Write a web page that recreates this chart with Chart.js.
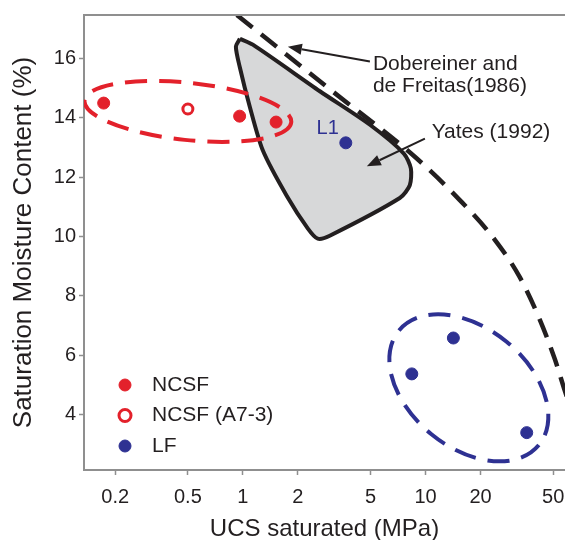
<!DOCTYPE html>
<html>
<head>
<meta charset="utf-8">
<script src="https://cdn.jsdelivr.net/npm/chart.js@4.4.1/dist/chart.umd.min.js"></script>
<style>
  html, body { margin: 0; padding: 0; background: #fff; overflow: hidden; }
  canvas { display: block; }
</style>
</head>
<body>
<canvas id="myChart" width="565" height="540"></canvas>
<script>
// valores (UCS em MPa, umidade em %)
const ncsfX = [0.173, 0.96, 1.52];
const ncsfY = [14.5, 14.06, 13.86];
const a73X = [0.5];
const a73Y = [14.3];
const lfX = [3.66, 8.41, 14.2, 35.8];
const lfY = [13.16, 5.37, 6.58, 3.39];

const xTicks = [0.2, 0.5, 1, 2, 5, 10, 20, 50];
const yTicks = [4, 6, 8, 10, 12, 14, 16];

// contorno Yates (1992)
const yatesX = [0.963, 1.134, 2.64, 4.96, 7.61, 8.31, 8.20, 7.23, 2.99, 2.57, 2.27, 1.74, 1.287, 1.092, 0.963, 0.916, 0.963];
const yatesY = [16.67, 16.47, 14.9, 13.77, 12.8, 12.3, 11.73, 11.3, 10.03, 9.93, 10.27, 11.37, 12.9, 14.37, 15.7, 16.4, 16.67];

// curva Dobereiner and de Freitas (1986)
const dobX = [0.927, 2.99, 8.96, 15.4, 23.9, 32.8, 42.2, 51.0, 57.9, 65.7];
const dobY = [17.47, 14.97, 12.63, 11.23, 9.9, 8.63, 7.2, 5.87, 4.8, 3.8];

// elipses: centro, fim do eixo maior, fim do eixo menor
const redEllipse = [[0.5, 14.22], [1.84, 13.85], [0.519, 15.18]];
const blueEllipse = [[17.26, 4.9], [41.7, 2.97], [28.1, 6.43]];

// setas: [cauda, ponta]
const arrowDob = [[4.96, 15.9], [1.763, 16.4]];
const arrowYates = [[9.92, 13.3], [4.77, 12.37]];

// textos
const labelDob = ['Dobereiner and', 'de Freitas(1986)'];
const labelDobAt = [5.15, 15.8];
const labelYates = 'Yates (1992)';
const labelYatesAt = [10.8, 13.53];
const labelL1 = 'L1';
const labelL1At = [2.53, 13.63];

const RED = '#e3212b';
const BLUE = '#2e3192';
const INK = '#231f20';
const AXIS = '#8f8f8f';
const FONT = "'Liberation Sans', Arial, sans-serif";

const pts = (xs, ys) => xs.map((x, i) => ({ x: x, y: ys[i] }));

function toPx(chart, p) {
  return [chart.scales.x.getPixelForValue(p[0]), chart.scales.y.getPixelForValue(p[1])];
}

function drawEllipse(chart, e, color) {
  const ctx = chart.ctx;
  const a = chart.chartArea;
  const c = e.map(p => toPx(chart, p));
  const rx = Math.hypot(c[1][0] - c[0][0], c[1][1] - c[0][1]);
  const ry = Math.hypot(c[2][0] - c[0][0], c[2][1] - c[0][1]);
  const ang = Math.atan2(c[1][1] - c[0][1], c[1][0] - c[0][0]);
  ctx.save();
  ctx.beginPath();
  ctx.rect(a.left, a.top, a.right - a.left, a.bottom - a.top);
  ctx.clip();
  ctx.beginPath();
  ctx.ellipse(c[0][0], c[0][1], rx, ry, ang, 0, Math.PI * 2);
  ctx.strokeStyle = color;
  ctx.lineWidth = 4;
  ctx.setLineDash([22, 12]);
  ctx.stroke();
  ctx.restore();
}

function drawArrow(chart, ar) {
  const ctx = chart.ctx;
  const t = toPx(chart, ar[0]);
  const h = toPx(chart, ar[1]);
  const ang = Math.atan2(h[1] - t[1], h[0] - t[0]);
  const len = 14, w = 5.5;
  const bx = h[0] - len * Math.cos(ang), by = h[1] - len * Math.sin(ang);
  ctx.save();
  ctx.strokeStyle = INK;
  ctx.fillStyle = INK;
  ctx.lineWidth = 2;
  ctx.beginPath();
  ctx.moveTo(t[0], t[1]);
  ctx.lineTo(bx, by);
  ctx.stroke();
  ctx.beginPath();
  ctx.moveTo(h[0], h[1]);
  ctx.lineTo(bx + w * Math.sin(ang), by - w * Math.cos(ang));
  ctx.lineTo(bx - w * Math.sin(ang), by + w * Math.cos(ang));
  ctx.closePath();
  ctx.fill();
  ctx.restore();
}

const extras = {
  id: 'extras',
  afterDatasetDraw(chart, args) {
    // elipses logo depois da area cinza
    if (args.index === 0) {
      drawEllipse(chart, redEllipse, RED);
      drawEllipse(chart, blueEllipse, BLUE);
    }
  },
  afterDraw(chart) {
    const ctx = chart.ctx;
    const a = chart.chartArea;
    const sx = chart.scales.x;
    ctx.save();
    // linha de cima
    ctx.strokeStyle = AXIS;
    ctx.lineWidth = 2;
    ctx.beginPath();
    ctx.moveTo(a.left, a.top);
    ctx.lineTo(a.right, a.top);
    ctx.stroke();

    // rotulos do eixo x (desenhados aqui pra nao encolher a area)
    ctx.fillStyle = INK;
    ctx.font = '20px ' + FONT;
    ctx.textAlign = 'center';
    ctx.textBaseline = 'middle';
    sx.ticks.forEach(t => {
      ctx.fillText(String(t.value), sx.getPixelForValue(t.value), a.bottom + 27);
    });

    drawArrow(chart, arrowDob);
    drawArrow(chart, arrowYates);

    ctx.fillStyle = INK;
    ctx.textAlign = 'left';
    ctx.font = '21px ' + FONT;
    let p = toPx(chart, labelDobAt);
    ctx.fillText(labelDob[0], p[0], p[1]);
    ctx.fillText(labelDob[1], p[0], p[1] + 22);
    p = toPx(chart, labelYatesAt);
    ctx.fillText(labelYates, p[0], p[1]);
    ctx.fillStyle = BLUE;
    ctx.font = '20px ' + FONT;
    p = toPx(chart, labelL1At);
    ctx.fillText(labelL1, p[0], p[1]);

    // legenda
    ctx.font = '21px ' + FONT;
    [1, 2, 3].forEach((di, i) => {
      const ds = chart.data.datasets[di];
      const y = a.top + 370 + i * 30.5;
      const x = a.left + 41;
      ctx.beginPath();
      ctx.arc(x, y, 6, 0, Math.PI * 2);
      ctx.fillStyle = ds.pointBackgroundColor;
      ctx.fill();
      ctx.lineWidth = ds.pointBorderWidth;
      ctx.strokeStyle = ds.pointBorderColor;
      ctx.stroke();
      ctx.fillStyle = INK;
      ctx.fillText(ds.label, a.left + 68, y);
    });
    ctx.restore();
  }
};

const ctx = document.getElementById('myChart').getContext('2d');

const myChart = new Chart(ctx, {
  type: 'scatter',
  data: {
    datasets: [
      {
        label: 'Yates (1992)',
        data: pts(yatesX, yatesY),
        showLine: true,
        fill: 'shape',
        backgroundColor: '#d7d8d9',
        borderColor: INK,
        borderWidth: 4,
        borderJoinStyle: 'round',
        tension: 0.25,
        pointRadius: 0,
        order: 5
      },
      {
        label: 'NCSF',
        data: pts(ncsfX, ncsfY),
        pointRadius: 6,
        pointBackgroundColor: RED,
        pointBorderColor: RED,
        pointBorderWidth: 1,
        order: 1
      },
      {
        label: 'NCSF (A7-3)',
        data: pts(a73X, a73Y),
        pointRadius: 5,
        pointBackgroundColor: '#ffffff',
        pointBorderColor: RED,
        pointBorderWidth: 3,
        order: 1
      },
      {
        label: 'LF',
        data: pts(lfX, lfY),
        pointRadius: 6,
        pointBackgroundColor: BLUE,
        pointBorderColor: BLUE,
        pointBorderWidth: 1,
        order: 1
      },
      {
        label: 'Dobereiner and de Freitas (1986)',
        data: pts(dobX, dobY),
        showLine: true,
        borderColor: INK,
        borderWidth: 4.5,
        borderDash: [20, 11],
        cubicInterpolationMode: 'monotone',
        pointRadius: 0,
        order: 3
      }
    ]
  },
  options: {
    responsive: false,
    animation: false,
    events: [],
    layout: { autoPadding: false, padding: { top: 10, right: 0, left: 0, bottom: 0 } },
    plugins: {
      legend: { display: false },
      tooltip: { enabled: false }
    },
    scales: {
      x: {
        type: 'logarithmic',
        min: 0.135,
        max: 58,
        afterBuildTicks: s => { s.ticks = xTicks.map(v => ({ value: v })); },
        afterFit: s => { s.height = 70; },
        grid: { display: true, drawOnChartArea: false, color: AXIS, tickLength: 5, tickWidth: 1.5 },
        border: { display: true, color: AXIS, width: 2 },
        ticks: { display: false },
        title: {
          display: true,
          text: 'UCS saturated (MPa)',
          color: INK,
          font: { family: FONT, size: 24, lineHeight: 0.9 },
          padding: 0
        }
      },
      y: {
        min: 2.13,
        max: 17.47,
        afterBuildTicks: s => { s.ticks = yTicks.map(v => ({ value: v })); },
        afterFit: s => { s.width = 84; },
        grid: { display: true, drawOnChartArea: false, color: AXIS, tickLength: 5, tickWidth: 1.5 },
        border: { display: true, color: AXIS, width: 2 },
        ticks: {
          color: INK,
          font: { family: FONT, size: 20 },
          padding: 3
        },
        title: {
          display: true,
          text: 'Saturation Moisture Content (%)',
          color: INK,
          font: { family: FONT, size: 26 },
          padding: { top: 8, bottom: 0 }
        }
      }
    }
  },
  plugins: [extras]
});
</script>
</body>
</html>
